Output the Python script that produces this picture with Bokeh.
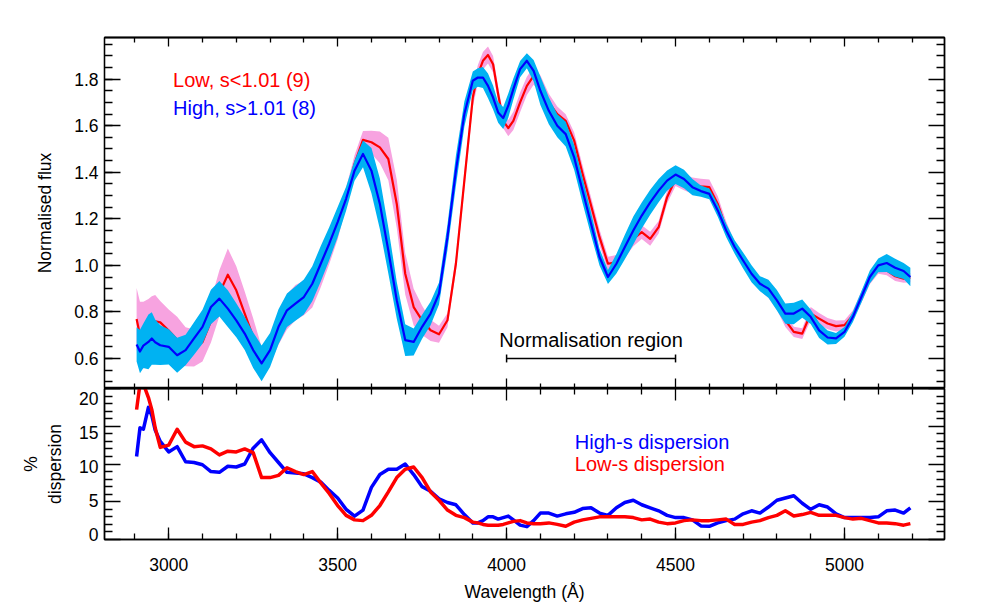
import numpy as np
from bokeh.plotting import figure
from bokeh.layouts import column
from bokeh.models import (ColumnDataSource, LinearAxis, SingleIntervalTicker, FixedTicker,
                          PrintfTickFormatter, Range1d)
from bokeh.embed import file_html
from bokeh.resources import INLINE
from bokeh.core.properties import value

# ---------------- data ----------------
wavelength = [2905, 2915, 2925, 2940, 2950, 2960, 2975,
              3000, 3025, 3050, 3075, 3100, 3125, 3150, 3175, 3200, 3225, 3250, 3275,
              3300, 3325, 3350, 3375, 3400, 3425, 3450, 3475, 3500, 3525, 3550, 3575,
              3600, 3625, 3650, 3675, 3700, 3725, 3750, 3775, 3800, 3825, 3850, 3875,
              3900, 3915, 3930, 3945, 3960, 3975, 3990, 4005, 4020, 4040, 4060, 4080,
              4100, 4125, 4150, 4175, 4200, 4225, 4250, 4275, 4300, 4325, 4350, 4375,
              4400, 4425, 4450, 4475, 4500, 4525, 4550, 4575, 4600, 4625, 4650, 4675,
              4700, 4725, 4750, 4775, 4800, 4825, 4850, 4875, 4900, 4925, 4950, 4975,
              5000, 5025, 5050, 5075, 5100, 5125, 5150, 5175, 5195]

high_mean = [0.66, 0.63, 0.655, 0.671, 0.686, 0.67, 0.657,
             0.65, 0.614, 0.636, 0.686, 0.736, 0.821, 0.857, 0.814, 0.764, 0.707, 0.636, 0.579,
             0.636, 0.736, 0.807, 0.836, 0.864, 0.921, 1.007, 1.093, 1.186, 1.286, 1.407, 1.479,
             1.407, 1.264, 1.064, 0.85, 0.679, 0.671, 0.736, 0.793, 0.879, 1.121, 1.407, 1.65,
             1.793, 1.807, 1.807, 1.771, 1.721, 1.657, 1.633, 1.686, 1.757, 1.843, 1.879, 1.836,
             1.75, 1.664, 1.60, 1.564, 1.464, 1.321, 1.179, 1.036, 0.95, 1.007, 1.079, 1.15,
             1.214, 1.271, 1.321, 1.364, 1.39, 1.371, 1.336, 1.319, 1.307, 1.236, 1.15, 1.079,
             1.021, 0.964, 0.921, 0.90, 0.85, 0.793, 0.793, 0.814, 0.779, 0.721, 0.69, 0.686,
             0.714, 0.779, 0.864, 0.95, 1.0, 1.01, 0.99, 0.976, 0.95]

low_mean = [0.77, 0.70, 0.70, 0.72, 0.74, 0.76, 0.755,
            0.72, 0.68, 0.65, 0.645, 0.67, 0.76, 0.88, 0.96, 0.893, 0.793, 0.693, 0.60,
            0.63, 0.72, 0.80, 0.84, 0.86, 0.90, 0.98, 1.07, 1.164, 1.293, 1.436, 1.539,
            1.529, 1.507, 1.457, 1.264, 0.964, 0.821, 0.764, 0.721, 0.704, 0.764, 1.007, 1.364,
            1.721, 1.821, 1.879, 1.904, 1.864, 1.736, 1.621, 1.59, 1.621, 1.70, 1.771, 1.814,
            1.779, 1.70, 1.65, 1.621, 1.536, 1.393, 1.257, 1.121, 1.007, 1.014, 1.064, 1.114,
            1.143, 1.114, 1.164, 1.293, 1.371, 1.357, 1.343, 1.339, 1.336, 1.264, 1.157, 1.079,
            1.021, 0.964, 0.914, 0.886, 0.836, 0.764, 0.714, 0.707, 0.793, 0.771, 0.75, 0.739,
            0.743, 0.786, 0.864, 0.943, 0.986, 0.979, 0.953, 0.943, 0.947]

high_disp = [11.0, 14.8, 14.6, 17.5, 16.4, 14.5, 13.0,
             11.6, 12.3, 10.3, 10.2, 9.9, 9.0, 8.9, 9.7, 9.6, 10.0, 12.1, 13.2,
             11.5, 10.2, 8.9, 8.8, 8.7, 8.2, 7.6, 6.5, 5.5, 4.0, 3.1, 3.9,
             6.9, 8.6, 9.3, 9.3, 10.0, 8.6, 7.0, 6.4, 5.4, 4.9, 4.6, 3.3,
             2.2, 2.2, 2.5, 3.0, 3.0, 2.7, 2.9, 3.1, 2.6, 1.9, 1.7, 2.5,
             3.5, 3.5, 3.1, 3.4, 3.6, 4.1, 4.2, 3.5, 3.2, 4.2, 4.9, 5.2,
             4.6, 4.2, 3.8, 3.2, 2.9, 2.9, 2.6, 1.8, 1.75, 2.2, 2.5, 2.7,
             3.4, 3.8, 3.5, 4.3, 5.2, 5.5, 5.8, 4.8, 4.0, 4.6, 4.3, 3.4,
             2.9, 2.9, 2.9, 2.9, 3.0, 3.8, 3.9, 3.5, 4.2]

low_disp = [17.2, 20.6, 20.6, 18.8, 17.2, 14.8, 12.2,
            12.5, 14.6, 12.9, 12.3, 12.4, 12.0, 11.2, 11.7, 11.6, 12.0, 11.5, 8.2,
            8.2, 8.5, 9.5, 9.0, 8.6, 9.0, 7.5, 6.1, 4.5, 3.2, 2.6, 2.5,
            3.2, 4.5, 6.3, 8.2, 9.3, 9.6, 8.2, 6.3, 5.2, 3.9, 3.2, 2.9,
            2.3, 2.2, 2.0, 1.9, 1.9, 1.9, 2.0, 2.2, 2.4, 2.5, 2.2, 2.1,
            2.1, 2.2, 2.0, 1.75, 2.3, 2.6, 2.8, 3.0, 3.0, 3.0, 3.0, 2.9,
            2.6, 2.7, 2.3, 2.1, 2.2, 2.5, 2.6, 2.5, 2.5, 2.6, 2.7, 2.0,
            2.0, 2.3, 2.5, 2.9, 3.2, 3.8, 3.1, 3.3, 3.6, 3.2, 3.2, 3.2,
            2.9, 2.7, 2.8, 2.5, 2.2, 2.2, 2.1, 1.9, 2.1]

norm_region = [4000, 4500]
norm_level = 0.6
top_labels = ["Low, s<1.01 (9)", "High, s>1.01 (8)"]
bottom_labels = ["High-s dispersion", "Low-s dispersion"]

# tick positions
x_major = [3000, 3500, 4000, 4500, 5000]
x_minor = [v for v in range(2900, 5300, 100) if v % 500 != 0]
flux_major = [0.6, 0.8, 1.0, 1.2, 1.4, 1.6, 1.8]
flux_minor = [round(0.5 + 0.05 * i, 2) for i in range(30) if (i % 4) != 2]
disp_major = [0, 5, 10, 15, 20]
disp_minor = [v for v in range(1, 20) if v % 5 != 0]

# ---------------- styling ----------------
FONT = "Liberation Sans"
RED = "#FF0000"
BLUE = "#0000FF"
PINK = "#F7A3E0"
CYAN = "#00B2F2"
TICK_FS = "17.5px"
LW = 1.3

w = np.array(wavelength, dtype=float)
hm = np.array(high_mean)
lm = np.array(low_mean)
hd = np.array(high_disp)
ld = np.array(low_disp)

src = ColumnDataSource(dict(
    x=w, high=hm, low=lm,
    high_lo=hm * (1 - hd / 100.0), high_hi=hm * (1 + hd / 100.0),
    low_lo=lm * (1 - ld / 100.0), low_hi=lm * (1 + ld / 100.0),
    high_d=hd, low_d=ld,
))

x_range = Range1d(2810, 5296)


def base_axis(ax):
    ax.axis_line_color = "black"
    ax.axis_line_width = LW
    ax.major_tick_line_color = "black"
    ax.minor_tick_line_color = "black"
    ax.major_tick_line_width = LW
    ax.minor_tick_line_width = LW
    ax.major_tick_out = 0
    ax.minor_tick_out = 0
    ax.major_label_text_font = FONT
    ax.major_label_text_font_size = TICK_FS
    ax.major_label_text_color = "black"
    ax.axis_label_text_font = FONT
    ax.axis_label_text_font_style = "normal"
    ax.axis_label_text_font_size = TICK_FS
    ax.axis_label_text_color = "black"


def tick_only(ax, positions, length):
    """Axis that only draws inward ticks (as 'minor' ticks, so no labels)."""
    base_axis(ax)
    ax.ticker = FixedTicker(ticks=[], minor_ticks=positions)
    ax.major_tick_in = 0
    ax.minor_tick_in = length
    ax.major_label_standoff = 0
    ax.axis_label = None


def add_tick_pair(fig, side, major, minor, major_len, minor_len, y_range_name="default"):
    a1 = LinearAxis(y_range_name=y_range_name) if side in ("left", "right") else LinearAxis()
    tick_only(a1, major, major_len)
    fig.add_layout(a1, side)
    a2 = LinearAxis(y_range_name=y_range_name) if side in ("left", "right") else LinearAxis()
    tick_only(a2, minor, minor_len)
    fig.add_layout(a2, side)


# ---------------- top panel ----------------
top = figure(frame_width=840, frame_height=351, x_range=x_range,
             y_range=Range1d(0.471, 1.979), output_backend="svg",
             toolbar_location=None, min_border_left=104, min_border_right=16,
             min_border_top=37, min_border_bottom=0)
top.grid.visible = False
top.outline_line_color = "black"
top.outline_line_width = LW

ya = top.yaxis[0]
base_axis(ya)
ya.ticker = SingleIntervalTicker(interval=0.2, num_minor_ticks=4)
ya.formatter = PrintfTickFormatter(format="%.1f")
ya.major_tick_in = 16
ya.minor_tick_in = 8
ya.major_label_standoff = 6
ya.axis_label = "Normalised flux"
ya.axis_label_standoff = 16

tick_only(top.xaxis[0], x_major, 10)
a = LinearAxis()
tick_only(a, x_minor, 5)
top.add_layout(a, "below")
add_tick_pair(top, "above", x_major, x_minor, 9, 5)
add_tick_pair(top, "right", flux_major, flux_minor, 16, 8)

top.varea(x="x", y1="low_lo", y2="low_hi", source=src, fill_color=PINK, fill_alpha=1)
top.line(x="x", y="low", source=src, line_color=RED, line_width=2.2, line_join="round")
top.varea(x="x", y1="high_lo", y2="high_hi", source=src, fill_color=CYAN, fill_alpha=1)
top.line(x="x", y="high", source=src, line_color=BLUE, line_width=2.2, line_join="round")

top.text(x=[3013, 3013], y=[1.796, 1.674], text=top_labels,
         text_color=[RED, BLUE], text_font=value(FONT), text_font_size="20px",
         text_baseline="alphabetic", text_align="left")

# normalisation region bracket
top.segment(x0=[norm_region[0]], y0=[norm_level], x1=[norm_region[1]], y1=[norm_level],
            line_color="black", line_width=1.5)
top.segment(x0=norm_region, y0=[norm_level - 0.017] * 2, x1=norm_region,
            y1=[norm_level + 0.017] * 2, line_color="black", line_width=1.5)
top.text(x=[sum(norm_region) / 2.0], y=[0.679], text=["Normalisation region"],
         text_color="black", text_font=value(FONT), text_font_size="20px",
         text_baseline="alphabetic", text_align="center")

# ---------------- bottom panel ----------------
bot = figure(frame_width=840, frame_height=151, x_range=x_range,
             y_range=Range1d(0, 20), output_backend="svg",
             toolbar_location=None, min_border_left=104, min_border_right=16,
             min_border_top=0, min_border_bottom=20)
bot.grid.visible = False
bot.outline_line_color = "black"
bot.outline_line_width = LW
# range used only to place the y tick labels where the reference puts them
bot.extra_y_ranges = {"labels": Range1d(-0.74, 21.52)}

# ticks on the left (no labels)
tick_only(bot.yaxis[0], disp_major, 16)
a = LinearAxis()
tick_only(a, disp_minor, 8)
bot.add_layout(a, "left")
# labels on the left (no ticks)
lab = LinearAxis(y_range_name="labels")
base_axis(lab)
lab.ticker = FixedTicker(ticks=disp_major, minor_ticks=[])
lab.formatter = PrintfTickFormatter(format="%d")
lab.axis_line_color = None
lab.major_tick_line_color = None
lab.major_tick_in = 0
lab.minor_tick_in = 0
lab.major_label_standoff = 6
lab.axis_label = "%\ndispersion"
lab.axis_label_standoff = 11
bot.add_layout(lab, "left")

xa = bot.xaxis[0]
base_axis(xa)
xa.ticker = SingleIntervalTicker(interval=500, num_minor_ticks=5)
xa.formatter = PrintfTickFormatter(format="%d")
xa.major_tick_in = 12
xa.minor_tick_in = 6
xa.major_label_standoff = 18
xa.axis_label = "Wavelength (Å)"
xa.axis_label_standoff = 8

add_tick_pair(bot, "above", x_major, x_minor, 12, 6)
add_tick_pair(bot, "right", disp_major, disp_minor, 16, 8)

bot.line(x="x", y="high_d", source=src, line_color=BLUE, line_width=3.5, line_join="round")
bot.line(x="x", y="low_d", source=src, line_color=RED, line_width=3.5, line_join="round")

bot.text(x=[4202, 4202], y=[12.93, 10.0], text=bottom_labels,
         text_color=[BLUE, RED], text_font=value(FONT), text_font_size="20px",
         text_baseline="alphabetic", text_align="left")

layout = column(top, bot, spacing=0)
open("out.html", "w").write(file_html(layout, INLINE))
